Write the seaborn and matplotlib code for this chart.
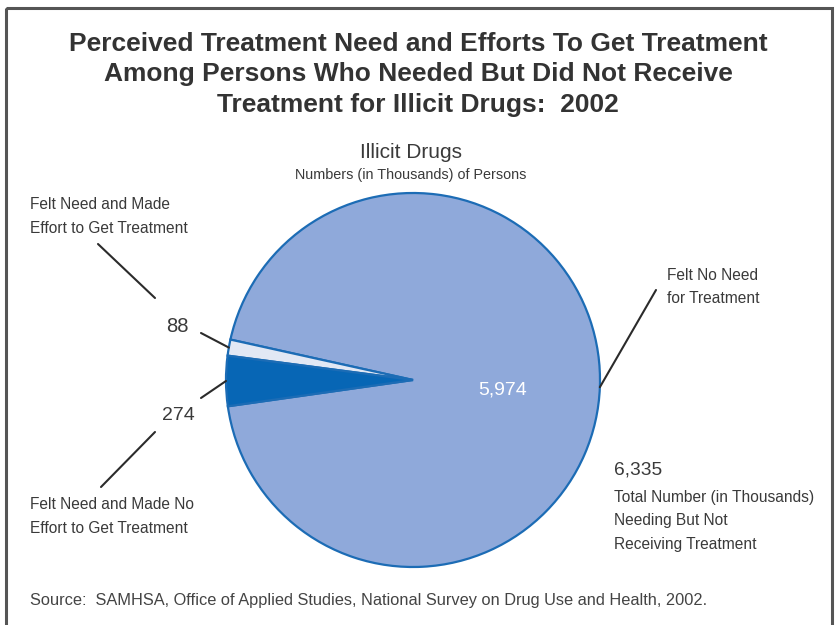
import numpy as np
import matplotlib
matplotlib.use("Agg")
import matplotlib.pyplot as plt
from matplotlib.patches import Rectangle
import seaborn as sns

# Data (numbers in thousands)
categories = ["Felt No Need for Treatment",
              "Felt Need and Made Effort to Get Treatment",
              "Felt Need and Made No Effort to Get Treatment"]
values = [5974, 88, 274]
value_labels = ["5,974", "88", "274"]
total_label = "6,335"

slice_colors = ["#8FA9DA", "#E2E8F4", "#0766B5"]
edge_color = "#1C6CB5"
text_color = "#3a3a3a"

sns.set_theme(style="white")
plt.rcParams["font.family"] = ["Liberation Sans", "DejaVu Sans"]

W, H = 838, 625
fig = plt.figure(figsize=(W / 100, H / 100), dpi=100)
fig.patch.set_facecolor("white")

# Overlay axes in pixel coordinates for text, leaders and frame
ov = fig.add_axes([0, 0, 1, 1], zorder=2)
ov.set_xlim(0, W)
ov.set_ylim(H, 0)
ov.axis("off")
ov.patch.set_alpha(0)

# Pie axes: data units equal to pixels, centred on (cx, cy)
cx, cy, R = 413, 380, 187
half = 210
pie_ax = fig.add_axes([(cx - half) / W, (H - cy - half) / H, 2 * half / W, 2 * half / H], zorder=1)

total = sum(values)
start = 180 + values[2] / total * 360 / 2 + 0.3
wedges, _ = pie_ax.pie(values, colors=slice_colors, radius=R, startangle=start,
                       counterclock=True,
                       wedgeprops=dict(edgecolor=edge_color, linewidth=1.6),
                       center=(0, 0), frame=False)
pie_ax.set_xlim(-half, half)
pie_ax.set_ylim(-half, half)
pie_ax.set_aspect("equal")
pie_ax.axis("off")


def edge_point(w):
    mid = np.deg2rad((w.theta1 + w.theta2) / 2)
    return cx + R * np.cos(mid), cy - R * np.sin(mid)


lc = "#2b2b2b"
lw = 1.5
lab_fs = 11.2
lab_ls = 1.72

# Frame
ov.add_patch(Rectangle((6, 8), 826, 640, fill=False, edgecolor="#555555", linewidth=2.2))

# Title
title = ("Perceived Treatment Need and Efforts To Get Treatment\n"
         "Among Persons Who Needed But Did Not Receive\n"
         "Treatment for Illicit Drugs:  2002")
ov.text(418, 74.5, title, ha="center", va="center", fontsize=19, fontweight="bold",
        color="#333333", linespacing=1.36)

ov.text(411, 153, "Illicit Drugs", ha="center", va="center", fontsize=15,
        color=text_color)
ov.text(411, 175, "Numbers (in Thousands) of Persons", ha="center", va="center",
        fontsize=10.4, color=text_color)

# Felt need, made effort (88)
ex, ey = edge_point(wedges[1])
ov.plot([201, ex], [333, ey], color=lc, lw=lw)
ov.plot([98, 155], [244, 298], color=lc, lw=lw)
ov.text(177, 326, value_labels[1], ha="center", va="center", fontsize=14.5,
        color=text_color)
ov.text(30, 216.5, "Felt Need and Made\nEffort to Get Treatment", ha="left", va="center",
        fontsize=lab_fs, color=text_color, linespacing=lab_ls)

# Felt need, made no effort (274)
ex, ey = edge_point(wedges[2])
ov.plot([201, ex], [398, ey], color=lc, lw=lw)
ov.plot([155, 101], [432, 487], color=lc, lw=lw)
ov.text(178, 415, value_labels[2], ha="center", va="center", fontsize=14,
        color=text_color)
ov.text(30, 516.5, "Felt Need and Made No\nEffort to Get Treatment", ha="left", va="center",
        fontsize=lab_fs, color=text_color, linespacing=lab_ls)

# Felt no need (5,974)
ex, ey = edge_point(wedges[0])
ov.plot([656, ex], [290, ey], color=lc, lw=lw)
ov.text(667, 287, "Felt No Need\nfor Treatment", ha="left", va="center",
        fontsize=lab_fs, color=text_color, linespacing=lab_ls)
ov.text(503, 390, value_labels[0], ha="center", va="center", fontsize=14,
        color="white")

# Total
ov.text(614, 470, total_label, ha="left", va="center", fontsize=13.8,
        color=text_color)
ov.text(614, 521, "Total Number (in Thousands)\nNeeding But Not\nReceiving Treatment",
        ha="left", va="center", fontsize=lab_fs, color=text_color,
        linespacing=lab_ls)

# Source
ov.text(30, 600, "Source:  SAMHSA, Office of Applied Studies, National Survey on Drug Use and Health, 2002.",
        ha="left", va="center", fontsize=11.8, color="#444444")

fig.savefig("out.png", dpi=100, facecolor="white")
